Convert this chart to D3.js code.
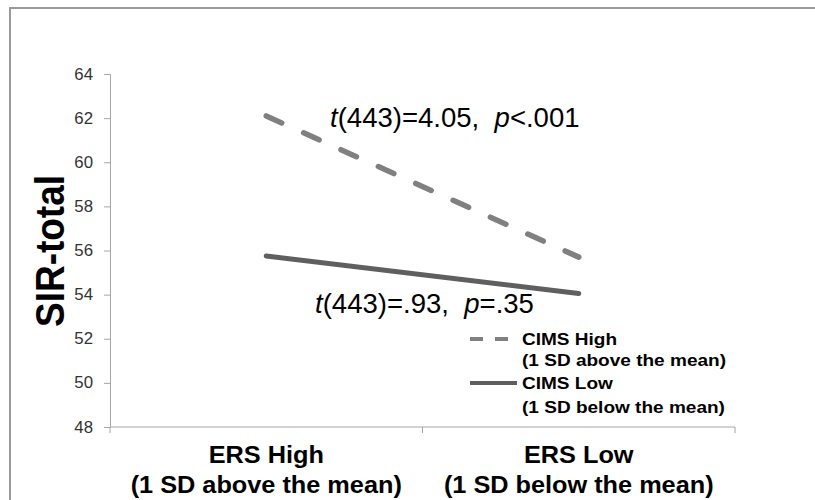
<!DOCTYPE html>
<html>
<head>
<meta charset="utf-8">
<script src="https://cdn.jsdelivr.net/npm/d3@7"></script>
<style>
  body { margin: 0; background: #fff; }
  svg { font-family: 'Liberation Sans', Arial, sans-serif; }
  text { white-space: pre; }
</style>
</head>
<body>
<div id="chart"></div>
<script>
// Data
const categories = ['ERS High', 'ERS Low'];
const categorySub = ['(1 SD above the mean)', '(1 SD below the mean)'];
const cimsHigh = [62.1, 55.7];
const cimsLow = [55.75, 54.05];
const yTicks = [48, 50, 52, 54, 56, 58, 60, 62, 64];
const seriesNames = ['CIMS High', 'CIMS Low'];
const seriesSub = ['(1 SD above the mean)', '(1 SD below the mean)'];

const width = 815, height = 500;
const margin = { top: 74, right: 80, bottom: 73, left: 110 };
const stretch = 1.1; // the source figure is a little wider than tall

const svg = d3.select('#chart').append('svg')
  .attr('width', width)
  .attr('height', height);

// helper: text placed at (x,y) with a slight horizontal stretch
const label = (g, x, y, str, size, opts = {}) =>
  g.append('text')
    .attr('transform', `translate(${x},${y}) scale(${opts.sx || stretch},1)`)
    .attr('text-anchor', opts.anchor || 'start')
    .attr('font-size', size)
    .attr('font-weight', opts.weight || 'normal')
    .attr('fill', opts.fill || '#000')
    .text(str);

// outer frame
svg.append('path')
  .attr('d', `M10,${height} V8 H${width}`)
  .attr('fill', 'none')
  .attr('stroke', '#9a9a9a')
  .attr('stroke-width', 2);

const x = d3.scaleBand()
  .domain(categories)
  .range([margin.left, width - margin.right]);

const y = d3.scaleLinear()
  .domain([48, 64])
  .range([height - margin.bottom, margin.top]);

// y axis
const yAxis = svg.append('g')
  .attr('transform', `translate(${margin.left},0)`)
  .call(d3.axisLeft(y).tickValues(yTicks).tickSize(6).tickFormat(''));
yAxis.select('.domain').attr('stroke', '#a6a6a6');
yAxis.selectAll('.tick line').attr('stroke', '#a6a6a6');
yTicks.forEach(t => {
  label(svg, 93, y(t) + 5.5, String(t), 16, { anchor: 'end', fill: '#333', sx: 1.05 });
});

// x axis
const xAxis = svg.append('g')
  .attr('transform', `translate(0,${y(48)})`);
xAxis.append('line')
  .attr('x1', margin.left).attr('x2', width - margin.right)
  .attr('stroke', '#a6a6a6');
const xEdges = [x(categories[0]), x(categories[1]), x(categories[1]) + x.bandwidth()];
xAxis.selectAll('.xtick')
  .data(xEdges)
  .join('line')
  .attr('x1', d => d).attr('x2', d => d)
  .attr('y1', 0).attr('y2', 6)
  .attr('stroke', '#a6a6a6');

categories.forEach((c, i) => {
  const cx = x(c) + x.bandwidth() / 2;
  label(svg, cx, 463, c, 23, { anchor: 'middle', weight: 'bold' });
  label(svg, cx, 493, categorySub[i], 23, { anchor: 'middle', weight: 'bold' });
});

// y title
svg.append('text')
  .attr('transform', `translate(64,251) scale(${stretch},1) rotate(-90)`)
  .attr('text-anchor', 'middle')
  .attr('font-size', 37).attr('font-weight', 'bold')
  .text('SIR-total');

// lines
const line = d3.line()
  .x((d, i) => x(categories[i]) + x.bandwidth() / 2)
  .y(d => y(d));

svg.append('path')
  .datum(cimsHigh)
  .attr('d', line)
  .attr('fill', 'none')
  .attr('stroke', '#808080')
  .attr('stroke-width', 5.5)
  .attr('stroke-linecap', 'round')
  .attr('stroke-dasharray', '17 24');

svg.append('path')
  .datum(cimsLow)
  .attr('d', line)
  .attr('fill', 'none')
  .attr('stroke', '#5f5f5f')
  .attr('stroke-width', 5)
  .attr('stroke-linecap', 'round');

// annotations
const annot = (x0, y0, parts) => {
  const t = svg.append('text')
    .attr('transform', `translate(${x0},${y0}) scale(1.02,1)`)
    .attr('font-size', 27);
  parts.forEach(([s, it]) => t.append('tspan').attr('font-style', it ? 'italic' : 'normal').text(s));
};
annot(330, 127, [['t', 1], ['(443)=4.05,  '], ['p', 1], ['<.001']]);
annot(315, 313, [['t', 1], ['(443)=.93,  '], ['p', 1], ['=.35']]);

// legend
const legend = svg.append('g').attr('transform', 'translate(470,0)');
legend.append('line')
  .attr('x1', 0).attr('x2', 38).attr('y1', 339).attr('y2', 339)
  .attr('stroke', '#808080').attr('stroke-width', 4)
  .attr('stroke-dasharray', '13 12');
legend.append('line')
  .attr('x1', 0).attr('x2', 47).attr('y1', 383).attr('y2', 383)
  .attr('stroke', '#5f5f5f').attr('stroke-width', 4);
const legendBase = [[345, 366], [389, 413]];
seriesNames.forEach((s, i) => {
  label(legend, 52, legendBase[i][0], s, 17, { weight: 'bold', sx: 1.12 });
  label(legend, 52, legendBase[i][1], seriesSub[i], 17, { weight: 'bold', sx: 1.12 });
});
</script>
</body>
</html>
